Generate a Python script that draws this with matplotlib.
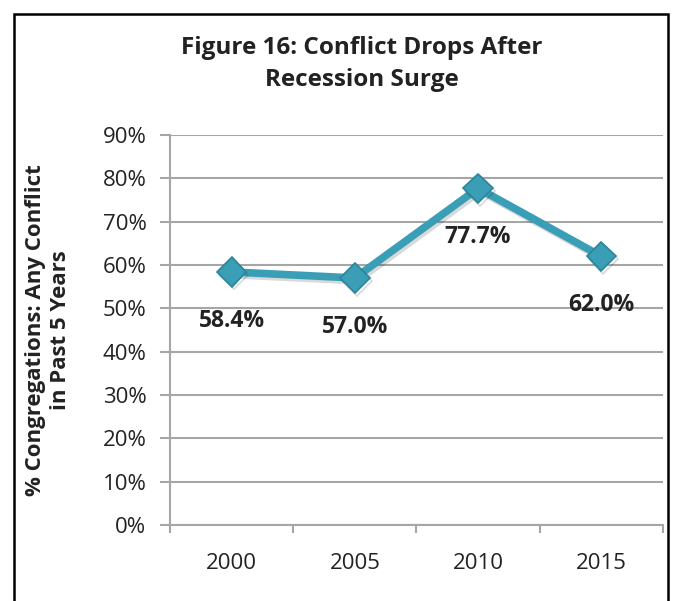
import matplotlib
matplotlib.use("Agg")
import matplotlib.pyplot as plt
from matplotlib.patches import Rectangle
import matplotlib.patheffects as pe

years = ["2000", "2005", "2010", "2015"]
values = [58.4, 57.0, 77.7, 62.0]
yticks = [0, 10, 20, 30, 40, 50, 60, 70, 80, 90]
title = "Figure 16: Conflict Drops After\nRecession Surge"
ylabel = "% Congregations: Any Conflict\nin Past 5 Years"

plt.rcParams['font.family'] = ['Open Sans', 'DejaVu Sans']

W, H = 675, 601
fig = plt.figure(figsize=(W / 100, H / 100), dpi=100)
ax = fig.add_axes([170 / W, 1 - 525 / H, (663 - 170) / W, (525 - 135) / H])

x = list(range(len(years)))
line_color = "#3a9fb6"
ax.plot(x, values, color=line_color, lw=5.5, marker="D", markersize=15,
        markerfacecolor="#3a9fb6", markeredgecolor="#2b8499", markeredgewidth=1.2,
        solid_joinstyle="miter", zorder=3,
        path_effects=[pe.SimpleLineShadow(offset=(1.5, -2), alpha=0.15), pe.Normal()])

for xi, v in zip(x, values):
    ax.annotate(f"{v:.1f}%", (xi, v), xytext=(0, -35), textcoords="offset points",
                ha="center", va="center", fontsize=16.5, fontweight="bold", color="#222222")

ax.set_xlim(-0.5, len(years) - 0.5)
ax.set_ylim(0, 90)
ax.set_yticks(yticks)
ax.set_yticklabels([f"{t}%" for t in yticks])
ax.set_xticks(x)
ax.set_xticklabels(years)
ax.set_xticks([i - 0.5 for i in range(len(years) + 1)], minor=True)
ax.tick_params(axis="x", which="major", length=0, pad=20, labelsize=16, colors="#222222")
ax.tick_params(axis="x", which="minor", length=6, width=1.5, color="#a6a6a6", direction="out")
ax.tick_params(axis="y", length=7, width=1.5, color="#a6a6a6", labelsize=16, labelcolor="#222222", pad=10)

ax.grid(axis="y", color="#a6a6a6", lw=1.5)
ax.set_axisbelow(True)
for s in ["top", "right"]:
    ax.spines[s].set_visible(False)
ax.spines["left"].set_color("#a6a6a6")
ax.spines["left"].set_linewidth(1.5)
ax.spines["bottom"].set_color("#a6a6a6")
ax.spines["bottom"].set_linewidth(1.5)

fig.text(362 / W, 1 - 64 / H, title, ha="center", va="center", fontsize=17.5,
         fontweight="bold", color="#222222", linespacing=1.42)
fig.text(48 / W, 1 - 330 / H, ylabel, ha="center", va="center", rotation=90,
         fontsize=16, fontweight="bold", color="#222222", linespacing=1.22)

fig.patches.append(Rectangle((14 / W, -0.05), (668 - 14) / W, 1.05 - 14 / H,
                             transform=fig.transFigure, fill=False, ec="black", lw=1.8))

fig.savefig("out.png", dpi=100)
